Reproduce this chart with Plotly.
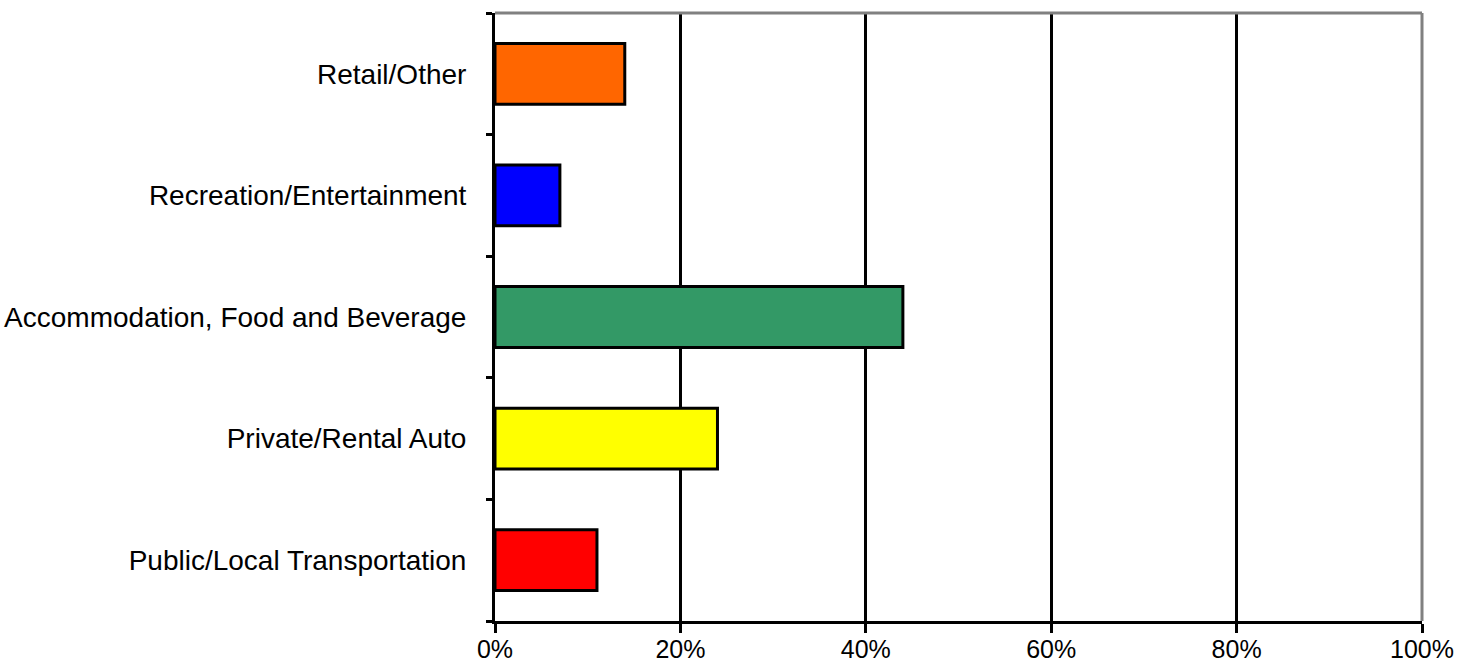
import plotly.graph_objects as go

categories = ["Public/Local Transportation", "Private/Rental Auto",
              "Accommodation, Food and Beverage", "Recreation/Entertainment",
              "Retail/Other"]
values = [11, 24, 44, 7, 14]
colors = ["#FF0000", "#FFFF00", "#339966", "#0000FF", "#FF6600"]
x_ticks = [0, 20, 40, 60, 80, 100]
x_tick_labels = ["0%", "20%", "40%", "60%", "80%", "100%"]

fig = go.Figure(go.Bar(
    x=values, y=categories, orientation="h",
    marker=dict(color=colors, line=dict(color="black", width=3)),
    width=0.5,
))

fig.update_layout(
    width=1468, height=666,
    margin=dict(l=495, r=46, t=13, b=45),
    plot_bgcolor="white", paper_bgcolor="white",
    font=dict(family="Arial, Liberation Sans", size=28, color="black"),
    showlegend=False,
    xaxis=dict(range=[0, 100], tickvals=x_ticks, ticktext=x_tick_labels,
               showgrid=True, gridcolor="black", gridwidth=3,
               showline=True, linecolor="black", linewidth=3,
               ticks="outside", ticklen=9, tickwidth=3, tickcolor="black",
               zeroline=False, tickfont=dict(size=25), automargin=False,
               ticklabelstandoff=-5),
    yaxis=dict(type="category", categoryorder="array", categoryarray=categories,
               tickson="boundaries", showgrid=False,
               showline=True, linecolor="black", linewidth=3,
               ticks="outside", ticklen=6, tickwidth=3, tickcolor="black",
               ticklabelstandoff=20, tickfont=dict(size=28), automargin=False),
    shapes=[
        dict(type="line", xref="paper", yref="paper", x0=0, x1=1, y0=1, y1=1,
             line=dict(color="#808080", width=3), layer="above"),
        dict(type="line", xref="paper", yref="paper", x0=1, x1=1, y0=0, y1=1,
             line=dict(color="#808080", width=3), layer="above"),
    ],
)

fig.write_html("out.html")
